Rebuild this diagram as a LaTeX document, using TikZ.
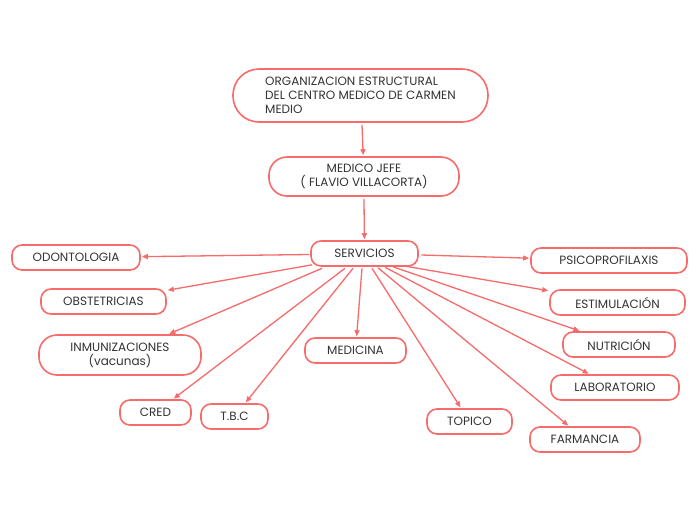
\documentclass[tikz,border=0pt]{standalone}
\usepackage{fontspec}
\setmainfont{Poppins}
\usetikzlibrary{calc,arrows.meta}
\definecolor{edgec}{HTML}{F76B6B}
\definecolor{txtc}{HTML}{333333}
\begin{document}
\begin{tikzpicture}[x=1pt,y=-1pt,
  box/.style={draw=edgec, line width=1.6pt, rounded corners=10pt, fill=white, text=txtc,
    font=\fontsize{12}{14}\selectfont, inner sep=0pt, align=center, minimum height=25pt},
  link/.style={draw=edgec, line width=1.3pt, shorten >=1pt, -{Triangle[length=6pt,width=5pt]}}]
\useasboundingbox[fill=white] (0,0) rectangle (697,520);

\node[box, minimum width=255pt, minimum height=53pt, rounded corners=26pt, align=left] (root) at (360.5,95.5) {ORGANIZACION ESTRUCTURAL\\DEL CENTRO MEDICO DE CARMEN\\MEDIO};
\node[box, minimum width=190pt, minimum height=39pt, rounded corners=18pt] (jefe) at (364,176.5) {MEDICO JEFE\\( FLAVIO VILLACORTA)};
\node[box, minimum width=107pt] (serv) at (364.5,253.5) {SERVICIOS};

\node[box, minimum width=128pt] (odon) at (76,257.5) {ODONTOLOGIA};
\node[box, minimum width=125pt] (obst) at (103.5,301.5) {OBSTETRICIAS};
\node[box, minimum width=162pt, minimum height=40pt, rounded corners=18pt] (inmu) at (120,355) {INMUNIZACIONES\\(vacunas)};
\node[box, minimum width=71pt] (cred) at (155.5,412.5) {CRED};
\node[box, minimum width=67pt] (tbc) at (234.5,416.5) {T.B.C};
\node[box, minimum width=101pt] (medi) at (355.5,350.5) {MEDICINA};
\node[box, minimum width=85pt] (topi) at (469.5,421.5) {TOPICO};
\node[box, minimum width=110pt] (farm) at (585,439.5) {FARMANCIA};
\node[box, minimum width=128pt] (labo) at (615,387.5) {LABORATORIO};
\node[box, minimum width=112pt] (nutr) at (619,344.5) {NUTRICIÓN};
\node[box, minimum width=135pt] (esti) at (617.5,302.5) {ESTIMULACIÓN};
\node[box, minimum width=156pt] (psic) at (609,260.5) {PSICOPROFILAXIS};

\draw[link] ($(root.south)+(1.5,2)$) -- (jefe);
\draw[link] ($(jefe.south)+(0,2)$) -- (serv);

\draw[link] ($(serv.west)+(-1,1)$) -- (odon);
\draw[link] ($(serv.south west)+(2,-2)$) -- (obst);
\draw[link] ($(serv.south)+(-42.5,1.5)$) -- (inmu);
\draw[link] ($(serv.south)+(-19.5,1.5)$) -- (cred);
\draw[link] ($(serv.south)+(-11.5,1.5)$) -- (tbc);
\draw[link] ($(serv.south)+(-2.5,1.5)$) -- (medi);
\draw[link] ($(serv.south)+(7.5,1.5)$) -- (topi);
\draw[link] ($(serv.south)+(13.5,1)$) -- (farm);
\draw[link] ($(serv.south)+(20.5,0.5)$) -- (labo);
\draw[link] ($(serv.south)+(28.5,0)$) -- (nutr);
\draw[link] ($(serv.south)+(38.5,-1)$) -- (esti);
\draw[link] ($(serv.east)+(2.5,1.5)$) -- (psic);
\end{tikzpicture}
\end{document}
